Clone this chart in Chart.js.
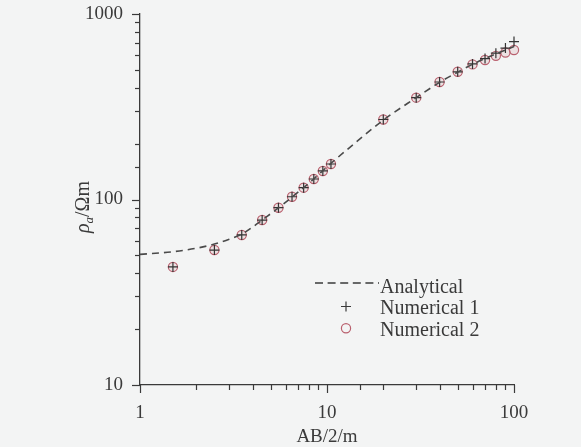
<!DOCTYPE html>
<html>
<head>
<meta charset="utf-8">
<script src="https://cdn.jsdelivr.net/npm/chart.js@4.4.1/dist/chart.umd.min.js"></script>
<style>
  html, body { margin: 0; padding: 0; background: #f3f4f4; }
  #wrap { position: relative; width: 581px; height: 447px; }
</style>
</head>
<body>
<div id="wrap"><canvas id="chart" width="581" height="447"></canvas></div>
<script>
// --- data (AB/2 in m, apparent resistivity in Ohm.m) ---
const abHalf = [1.5, 2.5, 3.5, 4.5, 5.5, 6.5, 7.5, 8.5, 9.5, 10.5, 20, 30, 40, 50, 60, 70, 80, 90, 100];
const numerical1 = [43.3, 53.4, 64.4, 77.5, 90.3, 103.5, 115.8, 129, 142.5, 155.4, 270, 354, 430, 488, 538, 575, 615, 655, 710];
const numerical2 = [43.3, 53.4, 64.4, 77.5, 90.3, 103.5, 115.8, 129, 142.5, 155.4, 270, 354, 430, 488, 535, 565, 595, 620, 640];
const analyticalX = [1, 1.5, 2, 2.5, 3, 3.5, 4, 4.5, 5.5, 6.5, 7.5, 8.5, 10, 15, 20, 30, 40, 50, 60, 70, 80, 90, 100];
const analyticalY = [50.6, 52.3, 54.6, 57.5, 61, 65, 71, 77.5, 90, 103, 116, 129, 150, 212, 268, 354, 428, 486, 535, 575, 610, 640, 668];
const seriesNames = ['Analytical', 'Numerical 1', 'Numerical 2'];
const xTickLabels = ['1', '10', '100'];
const yTickLabels = ['10', '100', '1000'];

const SERIF = '"Liberation Serif", "Times New Roman", serif';
const INK = '#3a3a3a';
const RED = '#b9606e';

const pairs = (xs, ys) => xs.map((x, i) => ({ x: x, y: ys[i] }));
const isDecade = v => Math.abs(Math.log10(v) - Math.round(Math.log10(v))) < 1e-9;

// outward tick marks, long on decades and short in between
const tickMarks = {
  id: 'tickMarks',
  afterDraw(chart) {
    const ctx = chart.ctx, a = chart.chartArea;
    ctx.save();
    ctx.strokeStyle = INK;
    ctx.lineWidth = 1.2;
    chart.scales.x.ticks.forEach(t => {
      const px = Math.round(chart.scales.x.getPixelForValue(t.value)) + 0.5;
      const len = isDecade(t.value) ? 8 : 5;
      ctx.beginPath(); ctx.moveTo(px, a.bottom); ctx.lineTo(px, a.bottom + len); ctx.stroke();
    });
    chart.scales.y.ticks.forEach(t => {
      const py = Math.round(chart.scales.y.getPixelForValue(t.value)) + 0.5;
      const len = isDecade(t.value) ? 8 : 5;
      ctx.beginPath(); ctx.moveTo(a.left, py); ctx.lineTo(a.left - len, py); ctx.stroke();
    });
    ctx.restore();
  }
};

// rotated y title with italic rho and subscript a
const yTitle = {
  id: 'yTitle',
  afterDraw(chart) {
    const ctx = chart.ctx;
    const parts = [
      { t: '\u03C1', f: 'italic 20px ' + SERIF, dy: 0 },
      { t: 'a', f: 'italic 13px ' + SERIF, dy: 4 },
      { t: '/\u03A9m', f: '20px ' + SERIF, dy: 0 }
    ];
    ctx.save();
    ctx.translate(82, 207);
    ctx.rotate(-Math.PI / 2);
    ctx.fillStyle = INK;
    ctx.textBaseline = 'alphabetic';
    let w = 0;
    parts.forEach(p => { ctx.font = p.f; w += ctx.measureText(p.t).width; });
    let x = -w / 2;
    parts.forEach(p => {
      ctx.font = p.f;
      ctx.fillText(p.t, x, 7 + p.dy);
      x += ctx.measureText(p.t).width;
    });
    ctx.restore();
  }
};

// legend inside the plot area
const plotLegend = {
  id: 'plotLegend',
  afterDraw(chart) {
    const ctx = chart.ctx;
    const textX = 380, rows = [292.5, 314.2, 335.9];
    ctx.save();
    // dashed swatch
    ctx.strokeStyle = INK; ctx.lineWidth = 1.6; ctx.setLineDash([8, 4.6]);
    ctx.beginPath(); ctx.moveTo(315, 283); ctx.lineTo(379, 283); ctx.stroke();
    ctx.setLineDash([]);
    // plus swatch
    ctx.lineWidth = 1.2;
    ctx.beginPath(); ctx.moveTo(341, 306.5); ctx.lineTo(351, 306.5);
    ctx.moveTo(346, 301.5); ctx.lineTo(346, 311.5); ctx.stroke();
    // circle swatch
    ctx.strokeStyle = RED;
    ctx.beginPath(); ctx.arc(346, 328.3, 4.6, 0, Math.PI * 2); ctx.stroke();
    ctx.fillStyle = INK;
    ctx.font = '20px ' + SERIF;
    ctx.textBaseline = 'alphabetic';
    seriesNames.forEach((n, i) => ctx.fillText(n, textX, rows[i]));
    ctx.restore();
  }
};

new Chart(document.getElementById('chart'), {
  type: 'scatter',
  data: {
    datasets: [
      {
        label: seriesNames[0],
        data: pairs(analyticalX, analyticalY),
        showLine: true,
        borderColor: '#4a4a4a',
        borderWidth: 1.6,
        borderDash: [7, 5],
        pointRadius: 0,
        cubicInterpolationMode: 'monotone',
        clip: false
      },
      {
        label: seriesNames[1],
        data: pairs(abHalf, numerical1),
        pointStyle: 'cross',
        pointRadius: 5,
        borderColor: '#333',
        borderWidth: 1.2,
        clip: false
      },
      {
        label: seriesNames[2],
        data: pairs(abHalf, numerical2),
        pointStyle: 'circle',
        pointRadius: 4.6,
        borderColor: RED,
        backgroundColor: 'rgba(200,120,130,0.15)',
        borderWidth: 1.2,
        clip: false
      }
    ]
  },
  options: {
    responsive: false,
    animation: false,
    layout: { padding: { left: 0, top: 14, right: 67, bottom: 0 } },
    plugins: { legend: { display: false }, tooltip: { enabled: false } },
    scales: {
      x: {
        type: 'logarithmic',
        min: 1, max: 100,
        grid: { drawOnChartArea: false, tickLength: 8, tickColor: 'rgba(0,0,0,0)' },
        border: { color: INK, width: 1.3 },
        ticks: {
          autoSkip: false, maxRotation: 0, padding: 9, color: INK,
          font: { family: SERIF, size: 19 },
          callback: v => isDecade(v) ? xTickLabels[Math.round(Math.log10(v))] : ''
        },
        title: { display: true, text: 'AB/2/m', color: INK, font: { family: SERIF, size: 19, lineHeight: 1 }, padding: { top: 0, bottom: 0 } },
        afterFit: s => { s.height = 62; s.paddingLeft = 0; s.paddingRight = 0; }
      },
      y: {
        type: 'logarithmic',
        min: 10, max: 1000,
        grid: { drawOnChartArea: false, tickLength: 8, tickColor: 'rgba(0,0,0,0)' },
        border: { color: INK, width: 1.3 },
        ticks: {
          autoSkip: false, padding: 9, color: INK,
          font: { family: SERIF, size: 19 },
          callback: v => isDecade(v) ? yTickLabels[Math.round(Math.log10(v)) - 1] : ''
        },
        afterFit: s => { s.width = 140; s.paddingTop = 0; s.paddingBottom = 0; }
      }
    }
  },
  plugins: [tickMarks, yTitle, plotLegend]
});
</script>
</body>
</html>
